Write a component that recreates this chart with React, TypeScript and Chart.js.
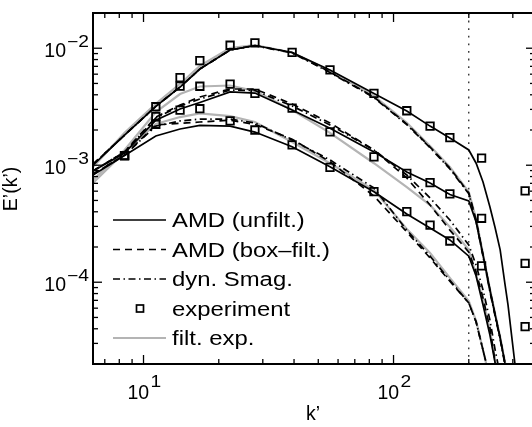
import React, { useEffect, useRef } from 'react';
import { Chart, registerables } from 'chart.js';

Chart.register(...registerables);

// ---- data ----
const kSim = [6.28, 8.4, 11.2, 14, 16.8, 22.2, 27.9, 39.3, 55.7, 83.5, 113, 140, 168, 200, 214, 228, 243, 255, 267, 279, 287, 306];
const kExp = [8.4, 11.2, 14, 16.8, 22.2, 27.9, 39.3, 55.7, 83.5, 113, 140, 168, 225, 336];
const kCutoff = 200;

// top group
const topAmd = [1.0e-3, 1.81e-3, 3.18e-3, 4.66e-3, 6.64e-3, 9.66e-3, 1.055e-2, 9.19e-3, 6.51e-3, 4.1e-3, 2.91e-3, 2.16e-3, 1.71e-3, 1.35e-3, 1.04e-3, 7.19e-4, 4.39e-4, 2.91e-4, 1.89e-4, 9.66e-5, 6.39e-5, 2.0e-5];
const topBox = [1.02e-3, 1.81e-3, 3.18e-3, 4.66e-3, 6.64e-3, 9.66e-3, 1.055e-2, 9.19e-3, 6.26e-3, 3.83e-3, 2.25e-3, 1.43e-3, 9.47e-4, 5.79e-4, 3.4e-4, 1.71e-4, 8.58e-5, 5.25e-5, 3.34e-5, 2.04e-5, 1.61e-5, 9.85e-6];
const topSmag = [1.02e-3, 1.81e-3, 3.18e-3, 4.66e-3, 6.64e-3, 9.66e-3, 1.05e-2, 9.1e-3, 6.2e-3, 3.78e-3, 2.22e-3, 1.41e-3, 9.3e-4, 5.7e-4, 3.3e-4, 1.66e-4, 8.3e-5, 5.1e-5, 3.25e-5, 1.98e-5, 1.6e-5, 9.8e-6];
const topFilt = [9.66e-4, 1.89e-3, 3.34e-3, 4.95e-3, 7.05e-3, 1.004e-2, 1.065e-2, 9.19e-3, 6.39e-3, 3.91e-3, 2.3e-3, 1.46e-3, 9.66e-4, 5.9e-4, 3.47e-4, 1.74e-4, 8.75e-5, 5.35e-5, 3.4e-5, 2.08e-5, 1.61e-5, 9.85e-6];
const topExp = [1.21e-3, 3.16e-3, 5.6e-3, 7.82e-3, 1.06e-2, 1.11e-2, 9.23e-3, 6.52e-3, 4.12e-3, 2.92e-3, 2.16e-3, 1.72e-3, 1.15e-3, 6.03e-4];

// middle group
const midAmd = [8.93e-4, 1.27e-3, 2.43e-3, 3.02e-3, 3.44e-3, 4.23e-3, 4.14e-3, 2.96e-3, 2.07e-3, 1.3e-3, 8.75e-4, 7.05e-4, 5.62e-4, 4.95e-4, 3.27e-4, 1.71e-4, 8.58e-5, 5.25e-5, 3.34e-5, 2.04e-5, 1.61e-5, 9.85e-6];
const midBox = [8.93e-4, 1.3e-3, 2.58e-3, 3.27e-3, 3.83e-3, 4.48e-3, 4.48e-3, 3.34e-3, 2.3e-3, 1.35e-3, 7.78e-4, 4.57e-4, 2.79e-4, 1.81e-4, 1.22e-4, 7.33e-5, 4.06e-5, 2.08e-5, 1.32e-5];
const midSmag = [8.93e-4, 1.3e-3, 2.53e-3, 3.21e-3, 3.68e-3, 4.39e-3, 4.35e-3, 3.21e-3, 2.21e-3, 1.35e-3, 8.25e-4, 5.25e-4, 3.4e-4, 2.08e-4, 1.4e-4, 8.58e-5, 4.75e-5, 2.63e-5, 1.61e-5];
const midFilt = [7.47e-4, 1.35e-3, 2.85e-3, 4.06e-3, 4.71e-3, 4.8e-3, 4.31e-3, 2.96e-3, 1.89e-3, 1.04e-3, 6.51e-4, 4.57e-4, 2.96e-4, 1.89e-4, 1.15e-4, 7.05e-5, 3.91e-5, 2.08e-5, 1.32e-5];
const midExp = [1.21e-3, 2.6e-3, 4.75e-3, 4.73e-3, 4.94e-3, 4.12e-3, 3.08e-3, 1.93e-3, 1.18e-3, 8.53e-4, 7.1e-4, 5.68e-4, 3.52e-4, 1.45e-4];

// bottom group
const botAmd = [8.25e-4, 1.21e-3, 1.78e-3, 2.04e-3, 2.19e-3, 2.16e-3, 1.92e-3, 1.44e-3, 9.71e-4, 5.94e-4, 3.83e-4, 2.91e-4, 2.3e-4, 1.67e-4, 1.13e-4, 6.39e-5, 3.54e-5, 2.04e-5, 1.32e-5];
const botBox = [8.41e-4, 1.22e-3, 2.21e-3, 2.28e-3, 2.34e-3, 2.43e-3, 2.23e-3, 1.67e-3, 1.07e-3, 5.46e-4, 2.69e-4, 1.61e-4, 1.02e-4, 6.64e-5, 4.57e-5, 2.63e-5, 1.52e-5];
const botSmag = [8.41e-4, 1.22e-3, 2.16e-3, 2.39e-3, 2.48e-3, 2.48e-3, 2.3e-3, 1.64e-3, 1.11e-3, 6.39e-4, 2.79e-4, 1.67e-4, 1.04e-4, 6.64e-5, 4.57e-5, 2.63e-5, 1.52e-5];
const botFilt = [7.05e-4, 1.3e-3, 2.25e-3, 2.58e-3, 2.77e-3, 2.63e-3, 2.34e-3, 1.58e-3, 1.04e-3, 6.14e-4, 2.85e-4, 1.78e-4, 1.09e-4, 6.91e-5, 4.66e-5, 2.63e-5, 1.46e-5];
const botExp = [1.21e-3, 2.24e-3, 2.96e-3, 3.04e-3, 2.39e-3, 2.0e-3, 1.49e-3, 9.59e-4, 5.94e-4, 4.01e-4, 3.08e-4, 2.25e-4, 1.38e-4, 4.17e-5];

// axes / ticks / labels
const xMajorTicks = [10, 100];
const xTickExponents = ['1', '2'];
const xMinorTicks = [7, 8, 9, 20, 30, 40, 50, 60, 70, 80, 90, 200, 300];
const yMajorTicks = [1e-4, 1e-3, 1e-2];
const yTickExponents = ['\u22124', '\u22123', '\u22122'];
const yMinorTicks = [3e-5, 4e-5, 5e-5, 6e-5, 7e-5, 8e-5, 9e-5, 2e-4, 3e-4, 4e-4, 5e-4, 6e-4, 7e-4, 8e-4, 9e-4, 2e-3, 3e-3, 4e-3, 5e-3, 6e-3, 7e-3, 8e-3, 9e-3];
const legendLabels = ['AMD (unfilt.)', 'AMD (box\u2013filt.)', 'dyn. Smag.', 'experiment', 'filt. exp.'];
const xTitle = 'k\u2019';
const yTitle = 'E\u2019(k\u2019)';

const X_MIN = 6.28;
const X_MAX = 368;
const Y_MIN = 2e-5;
const Y_MAX = 2e-2;

// ---- styles ----
const FONT = '"Liberation Sans", Arial, Helvetica, sans-serif';
const GRAY = '#b4b4b4';
const STYLE_AMD = { color: '#000', width: 1.7, dash: [] as number[] };
const STYLE_BOX = { color: '#000', width: 1.7, dash: [7, 5] };
const STYLE_SMAG = { color: '#000', width: 1.7, dash: [7, 3.5, 1.5, 3.5] };
const STYLE_FILT = { color: GRAY, width: 2.2, dash: [] as number[] };

function lineSet(values: number[], st: any, order: number) {
  return {
    data: values.map((y, i) => ({ x: kSim[i], y })),
    showLine: true,
    borderColor: st.color,
    borderWidth: st.width,
    borderDash: st.dash,
    pointRadius: 0,
    pointHoverRadius: 0,
    fill: false,
    tension: 0,
    order,
  };
}

function expSet(values: number[]) {
  return {
    data: values.map((y, i) => ({ x: kExp[i], y })),
    showLine: false,
    pointStyle: 'rect',
    pointRadius: 5.3,
    pointHoverRadius: 5.3,
    borderColor: '#000',
    pointBorderColor: '#000',
    backgroundColor: 'rgba(0,0,0,0)',
    pointBackgroundColor: 'rgba(0,0,0,0)',
    borderWidth: 1.8,
    pointBorderWidth: 1.8,
    order: 0,
  };
}

const cutoffPlugin = {
  id: 'cutoff',
  beforeDatasetsDraw(chart: any) {
    const { ctx, chartArea: a, scales } = chart;
    const x = scales.x.getPixelForValue(kCutoff);
    ctx.save();
    ctx.strokeStyle = '#000';
    ctx.lineWidth = 1.1;
    ctx.setLineDash([1.8, 5.8]);
    ctx.beginPath();
    ctx.moveTo(x, a.top);
    ctx.lineTo(x, a.bottom);
    ctx.stroke();
    ctx.restore();
  },
};

const framePlugin = {
  id: 'frame',
  afterDraw(chart: any) {
    const { ctx, chartArea: a, scales } = chart;
    const xs = scales.x;
    const ys = scales.y;
    ctx.save();
    ctx.strokeStyle = '#000';
    ctx.fillStyle = '#000';
    ctx.setLineDash([]);
    const seg = (x1: number, y1: number, x2: number, y2: number) => {
      ctx.beginPath();
      ctx.moveTo(x1, y1);
      ctx.lineTo(x2, y2);
      ctx.stroke();
    };
    ctx.lineWidth = 1.3;
    xMinorTicks.forEach((v) => {
      const x = xs.getPixelForValue(v);
      seg(x, a.bottom, x, a.bottom - 5);
      seg(x, a.top, x, a.top + 5);
    });
    xMajorTicks.forEach((v) => {
      const x = xs.getPixelForValue(v);
      seg(x, a.bottom, x, a.bottom - 9);
      seg(x, a.top, x, a.top + 9);
    });
    yMinorTicks.forEach((v) => {
      const y = ys.getPixelForValue(v);
      seg(a.left, y, a.left + 5, y);
      seg(a.right, y, a.right - 5, y);
    });
    yMajorTicks.forEach((v) => {
      const y = ys.getPixelForValue(v);
      seg(a.left, y, a.left + 9, y);
      seg(a.right, y, a.right - 9, y);
    });
    ctx.lineWidth = 2;
    ctx.strokeRect(a.left, a.top, a.right - a.left, a.bottom - a.top);

    const base = `19.5px ${FONT}`;
    const sup = `16px ${FONT}`;
    ctx.textBaseline = 'alphabetic';
    ctx.textAlign = 'left';
    // y tick labels
    yMajorTicks.forEach((v, i) => {
      const y = ys.getPixelForValue(v);
      ctx.font = base;
      const w = ctx.measureText('10').width;
      ctx.fillText('10', a.left - 27 - w, y + 8.5);
      ctx.font = sup;
      ctx.save();
      ctx.translate(a.left - 26, y - 1.5);
      ctx.scale(1.2, 1);
      ctx.fillText(yTickExponents[i], 0, 0);
      ctx.restore();
    });
    // x tick labels
    xMajorTicks.forEach((v, i) => {
      const x = xs.getPixelForValue(v);
      ctx.font = base;
      ctx.fillText('10', x - 16, a.bottom + 35);
      ctx.font = sup;
      ctx.save();
      ctx.translate(x + 7, a.bottom + 23);
      ctx.scale(1.2, 1);
      ctx.fillText(xTickExponents[i], 0, 0);
      ctx.restore();
    });
    // titles
    ctx.font = base;
    ctx.textAlign = 'center';
    ctx.fillText(xTitle, 313, 420);
    ctx.save();
    ctx.translate(17, 189);
    ctx.rotate(-Math.PI / 2);
    ctx.fillText(yTitle, 0, 0);
    ctx.restore();

    // legend
    const rows = [220, 249.5, 279, 308.5, 338];
    const lineStyles = [STYLE_AMD, STYLE_BOX, STYLE_SMAG, null, STYLE_FILT];
    rows.forEach((cy, i) => {
      const st = lineStyles[i];
      if (st) {
        ctx.strokeStyle = st.color;
        ctx.lineWidth = st.width;
        ctx.setLineDash(st.dash);
        seg(113, cy, 166, cy);
        ctx.setLineDash([]);
      } else {
        ctx.strokeStyle = '#000';
        ctx.lineWidth = 1.7;
        ctx.strokeRect(136.5, cy - 3.5, 7, 7);
      }
      ctx.font = base;
      ctx.textAlign = 'left';
      ctx.save();
      ctx.translate(172, cy + 7);
      ctx.scale(1.225, 1);
      ctx.fillText(legendLabels[i], 0, 0);
      ctx.restore();
    });
    ctx.restore();
  },
};

export default function App() {
  const ref = useRef<HTMLCanvasElement>(null);
  useEffect(() => {
    const chart = new Chart(ref.current as HTMLCanvasElement, {
      type: 'scatter',
      data: {
        datasets: [
          expSet(topExp),
          expSet(midExp),
          expSet(botExp),
          lineSet(topAmd, STYLE_AMD, 1),
          lineSet(topBox, STYLE_BOX, 1),
          lineSet(topSmag, STYLE_SMAG, 1),
          lineSet(midAmd, STYLE_AMD, 1),
          lineSet(midBox, STYLE_BOX, 1),
          lineSet(midSmag, STYLE_SMAG, 1),
          lineSet(botAmd, STYLE_AMD, 1),
          lineSet(botBox, STYLE_BOX, 1),
          lineSet(botSmag, STYLE_SMAG, 1),
          lineSet(topFilt, STYLE_FILT, 2),
          lineSet(midFilt, STYLE_FILT, 2),
          lineSet(botFilt, STYLE_FILT, 2),
        ] as any,
      },
      options: {
        responsive: false,
        animation: false,
        devicePixelRatio: 1,
        events: [],
        layout: { padding: { left: 93, right: 10, top: 13, bottom: 63 } },
        scales: {
          x: { type: 'logarithmic', min: X_MIN, max: X_MAX, display: false },
          y: { type: 'logarithmic', min: Y_MIN, max: Y_MAX, display: false },
        },
        plugins: {
          legend: { display: false },
          tooltip: { enabled: false },
        },
      } as any,
      plugins: [cutoffPlugin, framePlugin],
    });
    return () => chart.destroy();
  }, []);
  return (
    <div style={{ position: 'fixed', left: 0, top: 0, width: 532, height: 427, overflow: 'hidden', background: '#fff' }}>
      <canvas ref={ref} width={545} height={427} style={{ display: 'block' }} />
    </div>
  );
}
